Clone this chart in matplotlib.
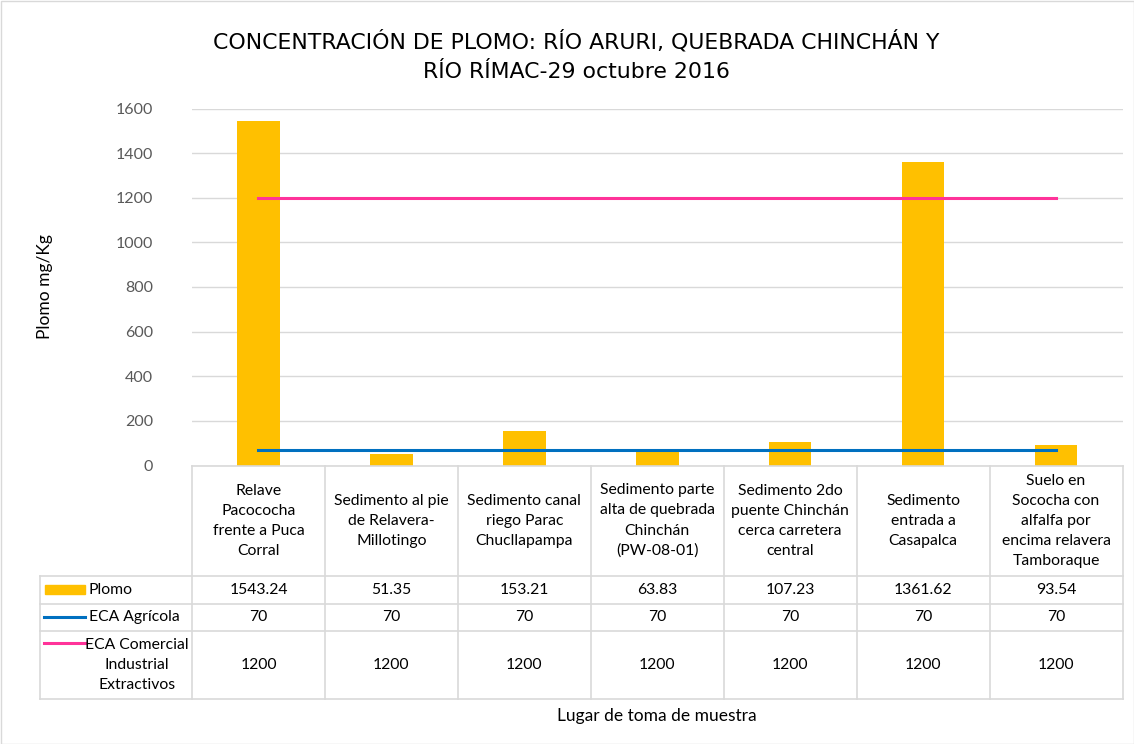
import numpy as np
import matplotlib
matplotlib.use('Agg')
import matplotlib.pyplot as plt
import matplotlib.transforms as mtransforms
from matplotlib.lines import Line2D
from matplotlib.patches import Rectangle

# Data
categories = ['Relave\nPacococha\nfrente a Puca\nCorral',
              'Sedimento al pie\nde Relavera-\nMillotingo',
              'Sedimento canal\nriego Parac\nChucllapampa',
              'Sedimento parte\nalta de quebrada\nChinchán\n(PW-08-01)',
              'Sedimento 2do\npuente Chinchán\ncerca carretera\ncentral',
              'Sedimento\nentrada a\nCasapalca',
              'Suelo en\nSococha con\nalfalfa por\nencima relavera\nTamboraque']
plomo = [1543.24, 51.35, 153.21, 63.83, 107.23, 1361.62, 93.54]
eca_agricola = [70, 70, 70, 70, 70, 70, 70]
eca_comercial = [1200, 1200, 1200, 1200, 1200, 1200, 1200]
series_names = ['Plomo', 'ECA Agrícola', 'ECA Comercial\nIndustrial\nExtractivos']
yticks = [0, 200, 400, 600, 800, 1000, 1200, 1400, 1600]

c_bar = '#FFC000'
c_agr = '#0070C0'
c_com = '#FF3399'
c_grid = '#D9D9D9'
body = ['Lato', 'DejaVu Sans']
tfs = 11.3  # table font size

W, H = 1134, 744
fig = plt.figure(figsize=(W / 100, H / 100), dpi=100)

def fy(py):
    return 1 - py / H

def fx(px):
    return px / W

left, right, top, bottom = 192, 1122.5, 108.5, 465.5
ax = fig.add_axes([fx(left), fy(bottom), fx(right) - fx(left), fy(top) - fy(bottom)])

x = np.arange(len(plomo))
ax.bar(x, plomo, width=0.32, color=c_bar, zorder=2)
ax.plot(x, eca_agricola, color=c_agr, lw=2.2, zorder=3)
ax.plot(x, eca_comercial, color=c_com, lw=2.2, zorder=3)
ax.set_xlim(-0.5, len(plomo) - 0.5)
ax.set_ylim(0, 1600)
ax.set_yticks(yticks)
ax.set_xticks([])
ax.yaxis.grid(True, color=c_grid, lw=1, zorder=0)
ax.tick_params(axis='y', length=0, pad=28, labelsize=11.5, labelcolor='#595959')
for lab in ax.get_yticklabels():
    lab.set_family(body)
for s in ax.spines.values():
    s.set_visible(False)

# title and axis labels
tfam = ['Liberation Sans Narrow', 'DejaVu Sans']
fig.text(fx(576), fy(41), 'CONCENTRACIÓN DE PLOMO: RÍO ARURI, QUEBRADA CHINCHÁN Y',
         ha='center', va='center', fontsize=15.8, family=tfam, color='#000000')
fig.text(fx(576), fy(72), 'RÍO RÍMAC-29 octubre 2016',
         ha='center', va='center', fontsize=15.8, family=tfam, color='#000000')
fig.text(fx(45), fy(287), 'Plomo mg/Kg', rotation=90, ha='center', va='center',
         fontsize=12.5, family=body, color='#000000')
fig.text(fx(657), fy(716), 'Lugar de toma de muestra', ha='center', va='center',
         fontsize=12.5, family=body, color='#000000')

# data table below the axis
tr = mtransforms.blended_transform_factory(ax.transData, fig.transFigure)
rows = [465.5, 576, 603.5, 631, 698.5]
tab_left = 39.5
for i, ry in enumerate(rows):
    x0 = left if i == 0 else tab_left
    fig.add_artist(Line2D([fx(x0), fx(right)], [fy(ry), fy(ry)], color=c_grid, lw=1.2,
                          transform=fig.transFigure))
fig.add_artist(Line2D([fx(tab_left), fx(tab_left)], [fy(rows[1]), fy(rows[-1])], color=c_grid, lw=1.2,
                      transform=fig.transFigure))
for b in np.arange(len(plomo) + 1) - 0.5:
    fig.add_artist(Line2D([b, b], [fy(rows[0]), fy(rows[-1])], color=c_grid, lw=1.2, transform=tr))

for i, cat in enumerate(categories):
    fig.text(i, fy((rows[0] + rows[1]) / 2), cat, transform=tr, ha='center', va='center',
             fontsize=tfs, family=body, linespacing=1.55, color='#000000')

series = [plomo, eca_agricola, eca_comercial]
row_y = [(rows[1] + rows[2]) / 2, (rows[2] + rows[3]) / 2, (rows[3] + rows[4]) / 2]
for vals, ry in zip(series, row_y):
    for i, v in enumerate(vals):
        fig.text(i, fy(ry), f'{v:g}', transform=tr, ha='center', va='center',
                 fontsize=tfs, family=body, color='#000000')

# legend keys inside the table
fig.add_artist(Rectangle((fx(45), fy(row_y[0] + 4.5)), fx(40), 9 / H, color=c_bar,
                         transform=fig.transFigure))
fig.add_artist(Line2D([fx(44), fx(85)], [fy(row_y[1]), fy(row_y[1])], color=c_agr, lw=2.2,
                      transform=fig.transFigure))
fig.add_artist(Line2D([fx(44), fx(85)], [fy(643), fy(643)], color=c_com, lw=2.2,
                      transform=fig.transFigure))
fig.text(fx(89), fy(row_y[0]), series_names[0], ha='left', va='center', fontsize=tfs, family=body)
fig.text(fx(89), fy(row_y[1]), series_names[1], ha='left', va='center', fontsize=tfs, family=body)
fig.text(fx(137), fy(row_y[2]), series_names[2], ha='center', va='center', fontsize=tfs,
         family=body, linespacing=1.55, multialignment='center')

# outer chart border
fig.add_artist(Rectangle((0.5 / W, 0.5 / H), 1 - 1 / W, 1 - 1 / H, fill=False, ec=c_grid, lw=1,
                         transform=fig.transFigure))

fig.savefig('out.png', dpi=100)
